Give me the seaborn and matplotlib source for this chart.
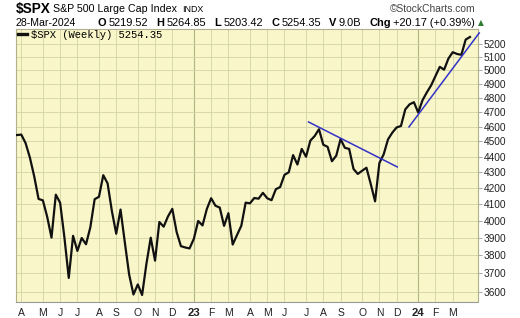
import matplotlib
matplotlib.use("Agg")
import matplotlib.pyplot as plt
import matplotlib.ticker as mticker
import matplotlib.dates as mdates
from matplotlib.font_manager import FontProperties
import numpy as np
import pandas as pd
import seaborn as sns

# ---------------- data ----------------
first_week = "2022-03-25"
closes = [
    # 2022
    4543.06, 4545.86, 4488.28, 4392.59, 4271.78, 4131.93, 4123.34, 4023.89, 3901.36, 4158.24,
    4108.54, 3900.86, 3674.84, 3911.74, 3825.33, 3899.38, 3863.16, 3961.63, 4130.29, 4145.19,
    4280.15, 4228.48, 4057.66, 3924.26, 4067.36, 3873.33, 3693.23, 3585.62, 3639.66, 3583.07,
    3752.75, 3901.06, 3770.55, 3992.93, 3965.34, 4026.12, 4071.70, 3934.38, 3852.36, 3844.82,
    3839.50,
    # 2023
    3895.08, 3999.09, 3972.61, 4070.56, 4136.48, 4090.46, 4079.09, 3970.04, 4045.64, 3861.59,
    3916.64, 3970.99, 4109.31, 4105.02, 4137.64, 4133.52, 4169.48, 4136.25, 4124.08, 4191.98,
    4205.45, 4282.37, 4298.86, 4409.59, 4348.33, 4450.38, 4398.95, 4505.42, 4536.34, 4582.23,
    4478.03, 4464.05, 4369.71, 4405.71, 4515.77, 4457.49, 4450.32, 4320.06, 4288.05, 4308.50,
    4327.78, 4224.16, 4117.37, 4358.34, 4415.24, 4514.02, 4559.34, 4594.63, 4604.37, 4719.19,
    4754.63, 4769.83,
    # 2024
    4697.24, 4783.83, 4839.81, 4890.97, 4958.61, 5026.61, 5005.57, 5088.80, 5137.08, 5123.69,
    5117.09, 5234.18, 5254.35,
]
trend1_dates = ["2023-07-11", "2023-12-02"]
trend1_values = [4632, 4333]
trend2_dates = ["2023-12-21", "2024-04-13"]
trend2_values = [4598, 5286]

y_ticks = [3600, 3700, 3800, 3900, 4000, 4100, 4200, 4300, 4400, 4500,
           4600, 4700, 4800, 4900, 5000, 5100, 5200]
month_labels = ["A", "M", "J", "J", "A", "S", "O", "N", "D", "23", "F", "M",
                "A", "M", "J", "J", "A", "S", "O", "N", "D", "24", "F", "M"]
year_labels = ["23", "24"]

title_symbol = r"\$SPX"
title_name = "S&P 500 Large Cap Index"
title_exch = "INDX"
brand = "\u00a9StockCharts.com"
date_text = "28-Mar-2024"
ohlc_pieces = [("O", True), ("5219.52", False), ("H", True), ("5264.85", False),
               ("L", True), ("5203.42", False), ("C", True), ("5254.35", False),
               ("V", True), ("9.0B", False), ("Chg", True), ("+20.17 (+0.39%)", False)]
legend_label = r"\$SPX (Weekly) 5254.35"

# ---------------- figure ----------------
W, H = 520, 318
plt.rcParams["font.family"] = ["Liberation Sans", "DejaVu Sans"]
fig = plt.figure(figsize=(W / 100, H / 100), dpi=100)
fig.patch.set_facecolor("white")
ax = fig.add_axes([16 / W, 1 - 302 / H, (478 - 16) / W, (302 - 28.5) / H])
ax.set_facecolor("#F9F7C9")

dates = pd.date_range(first_week, periods=len(closes), freq="W-FRI")
df = pd.DataFrame({"date": dates, "close": closes})

sns.lineplot(data=df, x="date", y="close", ax=ax, color="#111111", lw=1.6,
             label=legend_label, zorder=3)
ax.plot(pd.to_datetime(trend1_dates), trend1_values, color="#3232C8", lw=1.1, zorder=4)
ax.plot(pd.to_datetime(trend2_dates), trend2_values, color="#3232C8", lw=1.1, zorder=4,
        clip_on=False)

ax.set_yscale("log")
ax.set_ylim(3546, 5321)
ax.yaxis.set_major_locator(mticker.FixedLocator(y_ticks))
ax.yaxis.set_major_formatter(mticker.FixedFormatter([str(v) for v in y_ticks]))
ax.yaxis.set_minor_locator(mticker.NullLocator())
ax.yaxis.tick_right()
ax.tick_params(axis="y", length=3, width=0.6, color="#999999", pad=1,
               labelsize=7.3, labelcolor="#222222")

# month ticks at the first weekly bar of each month
month_first = df.groupby(df["date"].dt.to_period("M"))["date"].first().iloc[1:1 + len(month_labels)]
ax.xaxis.set_major_locator(mticker.FixedLocator(mdates.date2num(month_first.values)))
ax.xaxis.set_major_formatter(mticker.FixedFormatter(month_labels))
ax.xaxis.set_minor_locator(mticker.NullLocator())
ax.tick_params(axis="x", length=0, pad=4, labelsize=7.5, labelcolor="#222222")
for lab in ax.get_xticklabels():
    if lab.get_text() in year_labels:
        lab.set_fontweight("bold")
        lab.set_fontsize(8.2)

t0 = pd.Timestamp(first_week)
ax.set_xlim(t0 - pd.Timedelta(days=1.6), t0 + pd.Timedelta(days=748))
ax.set_xlabel("")
ax.set_ylabel("")

ax.grid(True, color="#D2D2A6", lw=0.6, zorder=0)
for gl, lab in zip(ax.xaxis.get_gridlines(), month_labels):
    if lab in year_labels:
        gl.set_color("#AEB682")
        gl.set_linewidth(0.8)
ax.set_axisbelow(True)
for side, sp in ax.spines.items():
    sp.set_color("#B0B08A")
    sp.set_linewidth(0.8)
ax.spines["bottom"].set_linestyle((0, (1, 1)))
ax.spines["bottom"].set_color("#999999")

leg = ax.legend(loc="upper left", bbox_to_anchor=(0, 1), borderaxespad=0.05, borderpad=0.1,
                handlelength=0.9, handletextpad=0.4, frameon=False,
                prop=FontProperties(family="Liberation Mono", size=7.6))
for h in leg.legend_handles:
    h.set_linewidth(2.4)

# ---------------- header ----------------
def fx(px):
    return px / W

def fy(py):
    return 1 - py / H

fig.text(fx(16), fy(8.5), title_symbol, fontsize=9.8, fontweight="bold", va="center", ha="left")
fig.text(fx(53), fy(9), title_name, fontsize=7.7, va="center", ha="left")
fig.text(fx(182), fy(9.5), title_exch, fontsize=6.4, va="center", ha="left")
fig.text(fx(475), fy(8.5), brand, fontsize=7.4, va="center", ha="right", color="#444444")
fig.text(fx(16), fy(23.5), date_text, fontsize=7.6, va="center", ha="left")

renderer = fig.canvas.get_renderer()
texts, widths = [], []
for s, b in ohlc_pieces:
    t = fig.text(0, 0, s, fontsize=7.9, fontweight="bold" if b else "normal",
                 va="center", ha="left")
    widths.append(t.get_window_extent(renderer).width)
    texts.append(t)
x_start, x_end, small_gap = 98, 475, 2.0
n_big = len(ohlc_pieces) // 2 - 1
big_gap = (x_end - x_start - sum(widths) - small_gap * (len(ohlc_pieces) // 2)) / n_big
x = x_start
for i, (t, w) in enumerate(zip(texts, widths)):
    t.set_position((fx(x), fy(23.5)))
    x += w + (small_gap if i % 2 == 0 else big_gap)
fig.text(fx(478), fy(23), "\u25b2", fontsize=5.5, va="center", ha="left", color="#2E7D32",
         family="DejaVu Sans")

fig.savefig("out.png", dpi=100, facecolor="white")
